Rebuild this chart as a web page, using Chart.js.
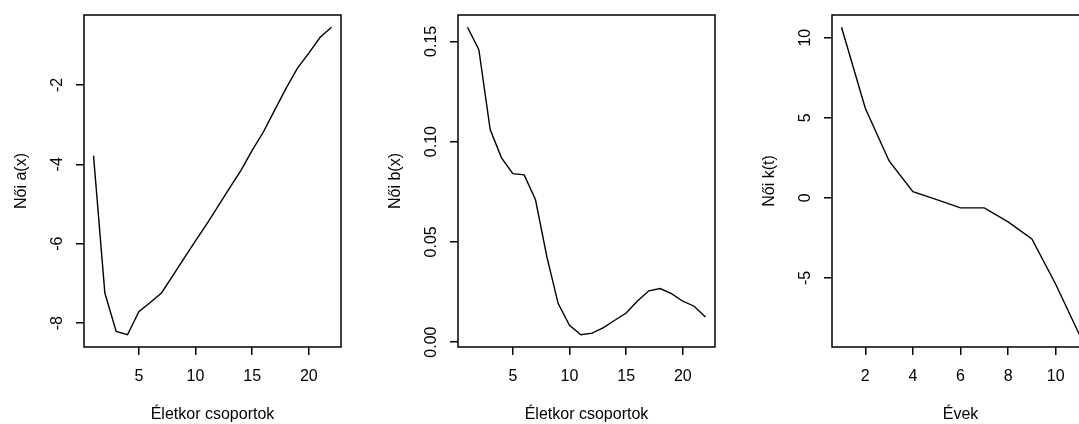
<!DOCTYPE html>
<html>
<head>
<meta charset="utf-8">
<script src="https://cdn.jsdelivr.net/npm/chart.js@4.4.1/dist/chart.umd.min.js"></script>
<style>
  html, body { margin: 0; padding: 0; background: #fff; overflow: hidden; }
  #wrap { position: relative; width: 1079px; height: 424px; overflow: hidden; }
  #wrap canvas { position: absolute; top: 0; }
</style>
</head>
<body>
<div id="wrap">
  <canvas id="chartA" width="374" height="424" style="left:0px"></canvas>
  <canvas id="chartB" width="374" height="424" style="left:374px"></canvas>
  <canvas id="chartK" width="374" height="424" style="left:748px"></canvas>
</div>
<script>
// adatok
var ageGroups = [1, 2, 3, 4, 5, 6, 7, 8, 9, 10, 11, 12, 13, 14, 15, 16, 17, 18, 19, 20, 21, 22];
var femaleA = [-3.78, -7.24, -8.21, -8.29, -7.71, -7.48, -7.24, -6.80, -6.36, -5.93, -5.50, -5.05, -4.60, -4.16, -3.65, -3.18, -2.63, -2.08, -1.58, -1.20, -0.80, -0.55];
var femaleB = [0.157, 0.1458, 0.106, 0.0919, 0.084, 0.0834, 0.071, 0.0426, 0.0192, 0.0084, 0.0037, 0.0045, 0.0072, 0.0109, 0.0145, 0.0205, 0.0256, 0.0267, 0.0242, 0.0204, 0.0179, 0.0125];
var years = [1, 2, 3, 4, 5, 6, 7, 8, 9, 10, 11];
var femaleK = [10.65, 5.59, 2.30, 0.38, -0.11, -0.63, -0.63, -1.50, -2.57, -5.40, -8.55];

var ageTicks = [5, 10, 15, 20];
var yearTicks = [2, 4, 6, 8, 10];
var aTicks = [-8, -6, -4, -2];
var bTicks = [0, 0.05, 0.10, 0.15];
var kTicks = [-5, 0, 5, 10];

var FONT = '"Liberation Sans", Arial, sans-serif';

// R-szerű 4%-os tengelybővítés
function pad4(arr) {
	var lo = Math.min.apply(null, arr), hi = Math.max.apply(null, arr);
	var d = (hi - lo) * 0.04;
	return { min: lo - d, max: hi + d };
}

function widest(labels) {
	var c = document.createElement('canvas').getContext('2d');
	c.font = '16px ' + FONT;
	var w = 0;
	labels.forEach(function(l){ w = Math.max(w, c.measureText(l).width); });
	return w;
}

var boxPlugin = {
	id: 'box',
	afterDraw: function(chart) {
		var a = chart.chartArea, ctx = chart.ctx;
		ctx.save();
		ctx.strokeStyle = '#000';
		ctx.lineWidth = 1.5;
		ctx.strokeRect(a.left, a.top, a.right - a.left, a.bottom - a.top);
		ctx.restore();
	}
};

function makeChart(id, xs, ys, xTicks, yTicks, fmt, xTitle, yTitle) {
	var xr = pad4(xs), yr = pad4(ys);
	var yLabels = yTicks.map(fmt);
	var yPad = 18 - widest(yLabels) / 2;
	var pts = xs.map(function(x, i){ return { x: x, y: ys[i] }; });

	return new Chart(document.getElementById(id), {
		type: 'line',
		data: {
			datasets: [{
				data: pts,
				borderColor: '#000',
				borderWidth: 1.4,
				pointRadius: 0,
				tension: 0,
				fill: false
			}]
		},
		options: {
			responsive: false,
			animation: false,
			layout: { padding: { top: 15, right: 33, left: 0, bottom: 0 } },
			plugins: { legend: { display: false }, tooltip: { enabled: false } },
			scales: {
				x: {
					type: 'linear',
					min: xr.min, max: xr.max,
					afterBuildTicks: function(s){ s.ticks = xTicks.map(function(v){ return { value: v }; }); },
					afterFit: function(s){ s.height = 77; s.paddingLeft = 0; s.paddingRight = 0; },
					grid: { drawOnChartArea: false, drawTicks: true, tickLength: 8, color: '#000', lineWidth: 1.5 },
					border: { display: false },
					ticks: { autoSkip: false, maxRotation: 0, padding: 12, color: '#000',
						font: { family: FONT, size: 16 },
						callback: function(v){ return String(v); } },
					title: { display: true, text: xTitle, color: '#000', padding: { top: 0, bottom: 0 },
						font: { family: FONT, size: 16 } }
				},
				y: {
					type: 'linear',
					min: yr.min, max: yr.max,
					afterBuildTicks: function(s){ s.ticks = yTicks.map(function(v){ return { value: v }; }); },
					afterFit: function(s){ s.width = 84; s.paddingTop = 0; s.paddingBottom = 0; },
					grid: { drawOnChartArea: false, drawTicks: true, tickLength: 8, color: '#000', lineWidth: 1.5 },
					border: { display: false },
					ticks: { autoSkip: false, minRotation: 90, maxRotation: 90, crossAlign: 'center',
						padding: yPad, color: '#000',
						font: { family: FONT, size: 16 },
						callback: function(v){ return fmt(v); } },
					title: { display: true, text: yTitle, color: '#000', padding: { top: 12, bottom: 0 },
						font: { family: FONT, size: 16 } }
				}
			}
		},
		plugins: [boxPlugin]
	});
}

makeChart('chartA', ageGroups, femaleA, ageTicks, aTicks, function(v){ return String(v); }, 'Életkor csoportok', 'Női a(x)');
makeChart('chartB', ageGroups, femaleB, ageTicks, bTicks, function(v){ return v.toFixed(2); }, 'Életkor csoportok', 'Női b(x)');
makeChart('chartK', years, femaleK, yearTicks, kTicks, function(v){ return String(v); }, 'Évek', 'Női k(t)');
</script>
</body>
</html>
